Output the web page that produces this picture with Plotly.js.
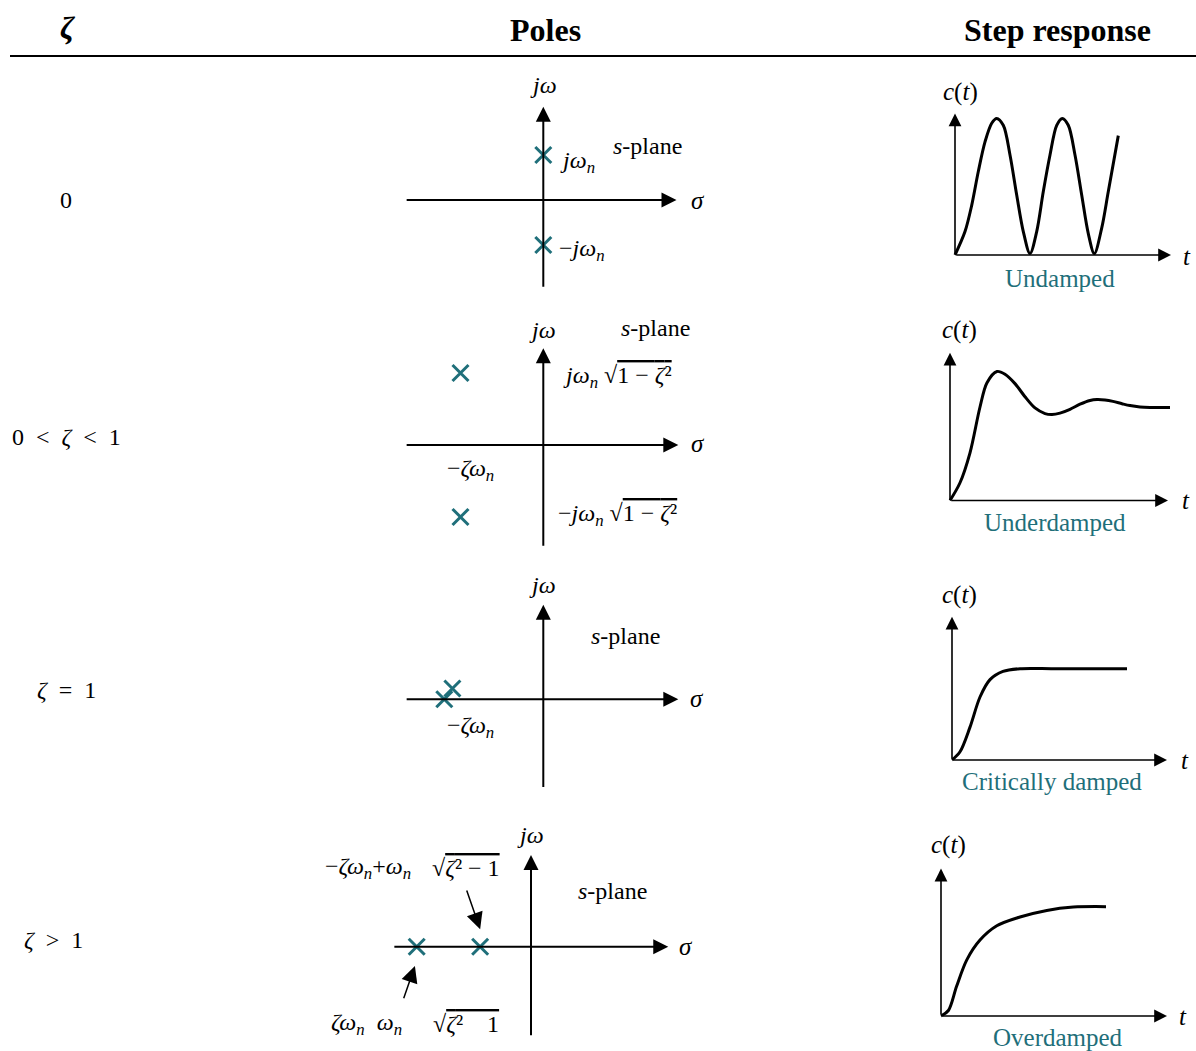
<!DOCTYPE html>
<html><head><meta charset="utf-8">
<script src="https://cdn.plot.ly/plotly-3.0.1.min.js"></script>
<style>html,body{margin:0;padding:0;background:#fff}#chart{width:1196px;height:1051px}</style>
</head><body><div id="chart"></div>
<script>
// ================= DATA =================
const headers = ['<b><i>ζ</i></b>', '<b>Poles</b>', '<b>Step response</b>'];
const zetaCases = ['0', '0\u00A0\u00A0&lt;\u00A0\u00A0<i>ζ</i>\u00A0\u00A0&lt;\u00A0\u00A01', '<i>ζ</i>\u00A0\u00A0=\u00A0\u00A01', '<i>ζ</i>\u00A0\u00A0&gt;\u00A0\u00A01'];
const responseNames = ['Undamped', 'Underdamped', 'Critically damped', 'Overdamped'];

// pole locations (sigma, j omega), omega_n = 1
const poleRe1 = [0, 0];          const poleIm1 = [1, -1];
const poleRe2 = [-1.84, -1.84];  const poleIm2 = [1.6, -1.6];
const poleRe3 = [-2.2, -2.02];   const poleIm3 = [0, 0.24];
const poleRe4 = [-2.54, -1.13];  const poleIm4 = [0, 0];

// step responses c(t)
const tUnd = [0, 0.5, 0.835, 1.165, 1.5, 1.835, 2.085, 2.415, 2.75, 3.085, 3.415, 3.75, 4.085, 4.415, 4.75, 5.085, 5.365, 5.665, 6.0, 6.335, 6.665, 6.965, 7.335, 7.665, 8.165];
const cUnd = [0, 0.34, 0.72, 1.21, 1.64, 1.91, 1.98, 1.88, 1.45, 0.87, 0.34, 0.02, 0.34, 0.92, 1.45, 1.88, 1.98, 1.88, 1.45, 0.87, 0.31, 0.02, 0.39, 0.92, 1.73];
const tUnder = [0, 0.5, 1.0, 1.5, 1.85, 2.35, 2.75, 3.25, 3.75, 4.25, 4.75, 5.1, 5.5, 6.0, 6.5, 7.0, 7.35, 7.75, 8.15, 8.6, 9.0, 9.5, 10.0, 11.0];
const cUnder = [0, 0.19, 0.51, 1.0, 1.26, 1.38, 1.35, 1.25, 1.11, 0.99, 0.93, 0.92, 0.935, 0.975, 1.03, 1.07, 1.08, 1.075, 1.06, 1.035, 1.015, 1.0, 0.995, 0.995];
const tCrit = [0, 0.4, 0.9, 1.4, 1.9, 2.55, 3.4, 5.05, 6.9, 8.75];
const cCrit = [0, 0.09, 0.36, 0.69, 0.88, 0.97, 1.0, 1.0, 1.0, 1.0];
const tOver = [0, 0.37, 0.78, 1.29, 1.95, 2.79, 3.95, 5.29, 6.62, 8.25];
const cOver = [0, 0.05, 0.27, 0.51, 0.69, 0.82, 0.9, 0.96, 0.99, 0.994];

// ================= LAYOUT HELPERS =================
const W = 1196, H = 1051;
const SERIF = 'Liberation Serif, DejaVu Serif, serif';
const TEAL = '#1f6f7a';
const layout = {
  width: W, height: H, margin: {l: 0, r: 0, t: 0, b: 0},
  paper_bgcolor: '#fff', plot_bgcolor: 'rgba(0,0,0,0)', showlegend: false,
  annotations: [], shapes: []
};
const traces = [];

// geometry of each subplot: origin pixel, px per unit, pixel box, drawn axis extents
const geo = [
  {ox: 543.3, oy: 200,   sx: 45, sy: 45,   L: 395, T: 95,  R: 690,  B: 295,  ax: [-3.07, 2.96], ay: [-1.96, 2.07]},
  {ox: 543.3, oy: 445,   sx: 45, sy: 45,   L: 395, T: 340, R: 690,  B: 555,  ax: [-3.07, 3.0],  ay: [-2.27, 2.15]},
  {ox: 543.3, oy: 699.3, sx: 45, sy: 45,   L: 395, T: 595, R: 690,  B: 800,  ax: [-3.07, 3.0],  ay: [-1.98, 2.1]},
  {ox: 531,   oy: 946.7, sx: 45, sy: 45,   L: 380, T: 845, R: 680,  B: 1045, ax: [-3.07, 3.05], ay: [-2.0, 2.04]},
  {ox: 955,   oy: 255,   sx: 20, sy: 69,   L: 940, T: 105, R: 1180, B: 265,  ax: [0, 10.8],  ay: [0, 2.05]},
  {ox: 950,   oy: 500.5, sx: 20, sy: 93.5, L: 940, T: 345, R: 1180, B: 510,  ax: [0, 10.9],  ay: [0, 1.58]},
  {ox: 952,   oy: 760,   sx: 20, sy: 91.3, L: 940, T: 605, R: 1180, B: 770,  ax: [0, 10.75], ay: [0, 1.57]},
  {ox: 941,   oy: 1016,  sx: 20, sy: 110,  L: 930, T: 860, R: 1180, B: 1026, ax: [0, 11.3],  ay: [0, 1.34]}
];
function ids(i) { return {x: i === 0 ? 'x' : 'x' + (i + 1), y: i === 0 ? 'y' : 'y' + (i + 1)}; }
geo.forEach((g, i) => {
  const id = ids(i);
  const xk = 'xaxis' + (i === 0 ? '' : i + 1), yk = 'yaxis' + (i === 0 ? '' : i + 1);
  layout[xk] = {domain: [g.L / W, g.R / W], range: [(g.L - g.ox) / g.sx, (g.R - g.ox) / g.sx],
    visible: false, fixedrange: true, anchor: id.y};
  layout[yk] = {domain: [1 - g.B / H, 1 - g.T / H], range: [(g.oy - g.B) / g.sy, (g.oy - g.T) / g.sy],
    visible: false, fixedrange: true, anchor: id.x};
});
function arrow(i, x0, y0, x1, y1, w, size) {
  const id = ids(i);
  layout.annotations.push({xref: id.x, yref: id.y, axref: id.x, ayref: id.y,
    x: x1, y: y1, ax: x0, ay: y0, text: '', showarrow: true, arrowhead: 2,
    arrowsize: size, arrowwidth: w, arrowcolor: '#000', standoff: 0, startstandoff: 0});
}
function label(text, x, y, size, opt) {
  opt = opt || {};
  layout.annotations.push({xref: 'paper', yref: 'paper', x: x / W, y: 1 - y / H, text: text,
    showarrow: false, xanchor: opt.xanchor || 'center', yanchor: 'middle',
    font: {family: SERIF, size: size, color: opt.color || '#000'}});
}

// axes with arrows
geo.forEach((g, i) => {
  const pole = i < 4;
  const w = pole ? 2 : 1.6;
  if (pole) {
    arrow(i, g.ax[0], 0, g.ax[1], 0, w, 1.5);
    arrow(i, 0, g.ay[0], 0, g.ay[1], w, 1.5);
  } else {
    arrow(i, 0, 0, g.ax[1], 0, w, 1.6);
    arrow(i, 0, 0, 0, g.ay[1], w, 1.6);
  }
});

// poles
[[poleRe1, poleIm1], [poleRe2, poleIm2], [poleRe3, poleIm3], [poleRe4, poleIm4]].forEach((p, i) => {
  const id = ids(i);
  traces.push({type: 'scatter', mode: 'markers', x: p[0], y: p[1], xaxis: id.x, yaxis: id.y,
    marker: {symbol: 'x-thin', size: 16, line: {width: 3, color: TEAL}, color: TEAL},
    cliponaxis: false, hoverinfo: 'skip'});
});
// step responses
[[tUnd, cUnd], [tUnder, cUnder], [tCrit, cCrit], [tOver, cOver]].forEach((s, k) => {
  const id = ids(k + 4);
  traces.push({type: 'scatter', mode: 'lines', x: s[0], y: s[1], xaxis: id.x, yaxis: id.y,
    line: {color: '#000', width: 3, shape: 'spline', smoothing: 0.9}, hoverinfo: 'skip'});
});

// header
label(headers[0], 68, 28, 32);
label(headers[1], 545, 30, 32);
label(headers[2], 1057, 30, 32);
layout.shapes.push({type: 'line', xref: 'paper', yref: 'paper', x0: 10 / W, x1: 1, y0: 1 - 56 / H, y1: 1 - 56 / H,
  line: {color: '#000', width: 2}});

// left column
const leftPos = [[66, 200], [66, 437], [66, 690], [53, 940]];
zetaCases.forEach((t, i) => label(t, leftPos[i][0], leftPos[i][1], 24));

// pole-plot labels
const F = 24;
const sqrtA = '√<span style="text-decoration:overline">1\u00A0−\u00A0<i>ζ</i>²</span>';
label('<i>jω</i>', 543, 85, F);
label('<i>s</i>-plane', 647, 146, F);
label('<i>jω<sub>n</sub></i>', 558, 162, F, {xanchor: 'left'});
label('−<i>jω<sub>n</sub></i>', 557, 250, F, {xanchor: 'left'});
label('<i>σ</i>', 698, 200, 25);

label('<i>jω</i>', 542, 330, F);
label('<i>s</i>-plane', 655, 328, F);
label('<i>jω<sub>n</sub></i>\u00A0' + sqrtA, 561, 377, F, {xanchor: 'left'});
label('<i>σ</i>', 698, 444, 25);
label('−<i>ζω<sub>n</sub></i>', 470, 470, F);
label('−<i>jω<sub>n</sub></i>\u00A0' + sqrtA, 556, 515, F, {xanchor: 'left'});

label('<i>jω</i>', 542, 585, F);
label('<i>s</i>-plane', 625, 636, F);
label('<i>σ</i>', 697, 698, 25);
label('−<i>ζω<sub>n</sub></i>', 470, 727, F);

label('<i>jω</i>', 530, 835, F);
label('<i>s</i>-plane', 612, 891, F);
label('<i>σ</i>', 686, 946, 25);
label('−<i>ζω<sub>n</sub></i>+<i>ω<sub>n</sub></i>', 368, 868, F);
label('√<span style="text-decoration:overline"><i>ζ</i>²\u00A0−\u00A01</span>', 466, 868, F);
label('<i>ζω<sub>n</sub></i>\u00A0\u00A0<i>ω<sub>n</sub></i>', 366, 1024, F);
label('√<span style="text-decoration:overline"><i>ζ</i>²\u00A0\u00A0\u00A0\u00A01</span>', 466, 1024, F);
arrow(3, -1.44, 1.28, -1.13, 0.39, 1.5, 2.2);
arrow(3, -2.84, -1.18, -2.58, -0.43, 1.5, 2.2);

// step-plot labels
const cPos = [[960, 92], [959, 330], [959, 595], [948, 845]];
const tPos = [[1187, 256], [1186, 500], [1185, 760], [1183, 1016]];
const capPos = [[1060, 278], [1055, 522], [1052, 781], [1058, 1037]];
for (let k = 0; k < 4; k++) {
  label('<i>c</i>(<i>t</i>)', cPos[k][0], cPos[k][1], 25);
  label('<i>t</i>', tPos[k][0], tPos[k][1], 25);
  label(responseNames[k], capPos[k][0], capPos[k][1], 25, {color: TEAL});
}

Plotly.newPlot('chart', traces, layout, {displayModeBar: false, staticPlot: true});
</script>
</body></html>
